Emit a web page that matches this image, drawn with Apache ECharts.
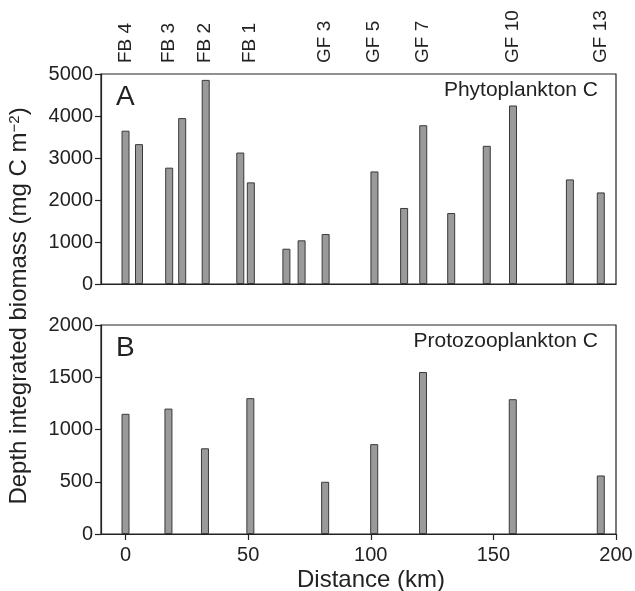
<!DOCTYPE html>
<html>
<head>
<meta charset="utf-8">
<script src="https://cdn.jsdelivr.net/npm/echarts@6/dist/echarts.min.js"></script>
<style>html,body{margin:0;padding:0;background:#fff;}#c{width:635px;height:591px;}</style>
</head>
<body>
<div id="c"></div>
<script>
// Station names (top axis) and their distances (km)
var stationNames = ['FB 4', 'FB 3', 'FB 2', 'FB 1', 'GF 3', 'GF 5', 'GF 7', 'GF 10', 'GF 13'];
var stationKm = [0, 17.5, 32.5, 50.8, 81.4, 101.4, 121.4, 158, 193.8];

// Panel A: phytoplankton C
var phytoKm = [0, 5.5, 17.8, 23.1, 32.7, 46.8, 51.1, 65.6, 71.8, 81.6, 101.5, 113.6, 121.4, 132.8, 147.3, 158.0, 181.2, 193.8];
var phytoC = [3650, 3330, 2770, 3950, 4860, 3130, 2420, 840, 1040, 1190, 2680, 1810, 3780, 1690, 3290, 4250, 2490, 2180];

// Panel B: protozooplankton C
var protoKm = [0, 17.5, 32.4, 50.9, 81.4, 101.4, 121.3, 157.9, 193.8];
var protoC = [1150, 1200, 820, 1300, 500, 860, 1550, 1290, 560];

// Tick labels
var xTicks = [0, 50, 100, 150, 200];
var yTicksA = [0, 1000, 2000, 3000, 4000, 5000];
var yTicksB = [0, 500, 1000, 1500, 2000];

var FONT = "'Liberation Sans', Arial, Helvetica, sans-serif";
var INK = '#222';

function pairs(xs, ys) { return xs.map(function (x, i) { return [x, ys[i]]; }); }
function stationName(v) {
  var best = 0, d = Infinity;
  stationKm.forEach(function (k, i) { var dd = Math.abs(k - v); if (dd < d) { d = dd; best = i; } });
  return stationNames[best];
}
function plain(v) { return String(v); }

var chart = echarts.init(document.getElementById('c'), null, { renderer: 'canvas' });
var barStyle = { color: '#9a9a9a', borderColor: '#3a3a3a', borderWidth: 1 };

function yAxisDef(grid, ticks) {
  return { gridIndex: grid, type: 'value', min: ticks[0], max: ticks[ticks.length - 1], interval: ticks[1] - ticks[0],
    axisLine: { show: true, onZero: false, lineStyle: { color: INK, width: 1.2 } },
    axisTick: { show: true, length: 6, lineStyle: { color: INK, width: 1.2 } },
    axisLabel: { fontSize: 20, fontFamily: FONT, color: INK, margin: 8, formatter: plain },
    splitLine: { show: false } };
}

chart.setOption({
  animation: false,
  backgroundColor: '#fff',
  textStyle: { fontFamily: FONT, color: INK },
  grid: [
    { left: 101, right: 19, top: 74, height: 210, outerBoundsMode: 'none', containLabel: false,
      show: true, borderColor: INK, borderWidth: 1.2, backgroundColor: 'transparent' },
    { left: 101, right: 19, top: 325, height: 209, outerBoundsMode: 'none', containLabel: false,
      show: true, borderColor: INK, borderWidth: 1.2, backgroundColor: 'transparent' }
  ],
  xAxis: [
    { gridIndex: 0, type: 'value', min: -10, max: 200, position: 'bottom',
      axisLine: { show: true, onZero: false, lineStyle: { color: INK, width: 1.2 } },
      axisTick: { show: false }, axisLabel: { show: false }, splitLine: { show: false } },
    { gridIndex: 0, type: 'value', min: -10, max: 200, position: 'top',
      axisLine: { show: false }, axisTick: { show: false }, splitLine: { show: false },
      axisLabel: { show: true, customValues: stationKm, rotate: 90, margin: 11,
        fontSize: 19, fontFamily: FONT, color: INK,
        formatter: function (v) { return stationName(v); } } },
    { gridIndex: 1, type: 'value', min: -10, max: 200, position: 'bottom',
      axisLine: { show: true, onZero: false, lineStyle: { color: INK, width: 1.2 } },
      axisTick: { show: true, customValues: xTicks, length: 6, lineStyle: { color: INK, width: 1.2 } },
      axisLabel: { show: true, customValues: xTicks, fontSize: 20, fontFamily: FONT, color: INK, margin: 11, formatter: plain },
      splitLine: { show: false },
      name: 'Distance (km)', nameLocation: 'middle', nameGap: 34,
      nameTextStyle: { fontSize: 24, fontFamily: FONT, color: INK, padding: [0, 0, 0, 25] } }
  ],
  yAxis: [ yAxisDef(0, yTicksA), yAxisDef(1, yTicksB) ],
  series: [
    { type: 'bar', xAxisIndex: 0, yAxisIndex: 0, barWidth: 8, data: pairs(phytoKm, phytoC), itemStyle: barStyle },
    { type: 'bar', xAxisIndex: 2, yAxisIndex: 1, barWidth: 8, data: pairs(protoKm, protoC), itemStyle: barStyle }
  ],
  graphic: [
    { type: 'text', left: 116, top: 83, style: { text: 'A', fontSize: 28, fontFamily: FONT, fill: INK } },
    { type: 'text', left: 116, top: 334, style: { text: 'B', fontSize: 28, fontFamily: FONT, fill: INK } },
    { type: 'text', right: 37, top: 80, style: { text: 'Phytoplankton C', fontSize: 21, fontFamily: FONT, fill: INK } },
    { type: 'text', right: 37, top: 331, style: { text: 'Protozooplankton C', fontSize: 21, fontFamily: FONT, fill: INK } },
    { type: 'text', x: 7, y: 306, rotation: Math.PI / 2,
      style: { text: 'Depth integrated biomass (mg C m{sup|−2})', fontSize: 24, fontFamily: FONT, fill: INK,
        align: 'center', verticalAlign: 'top',
        rich: { sup: { fontSize: 15, fontFamily: FONT, fill: INK, verticalAlign: 'top', padding: [0, 0, 9, 0] } } } }
  ]
});
</script>
</body>
</html>
